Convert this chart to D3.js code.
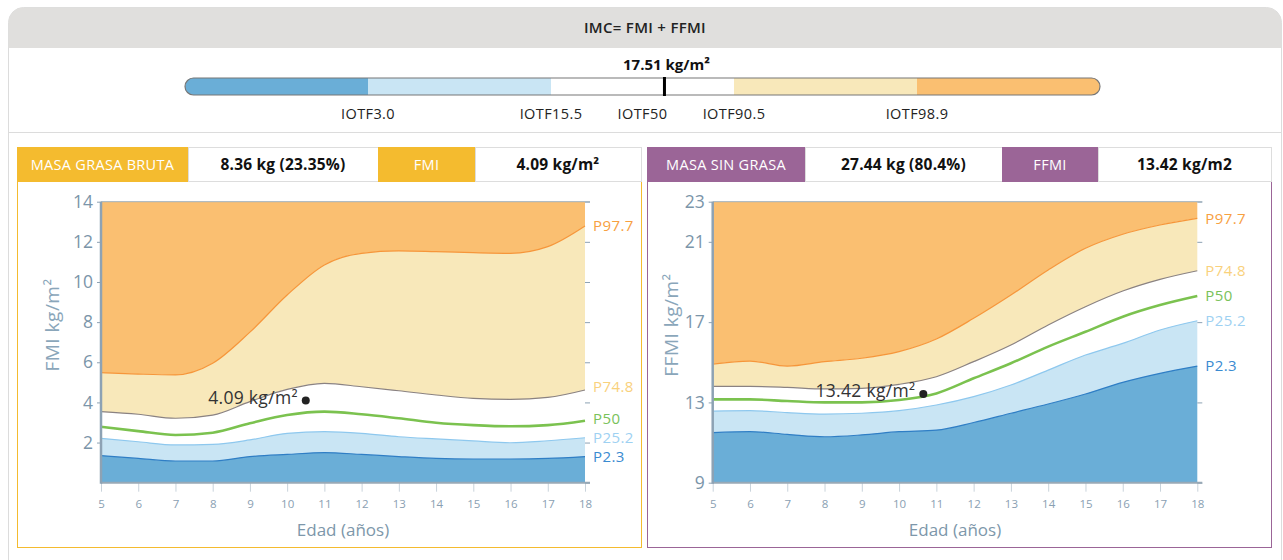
<!DOCTYPE html>
<html>
<head>
<meta charset="utf-8">
<script src="https://cdn.jsdelivr.net/npm/d3@7"></script>
<style>
  body { margin: 0; background: #fff; font-family: "Open Sans", "Noto Sans", sans-serif; }
  svg text { font-family: "Open Sans", "Noto Sans", sans-serif; }
</style>
</head>
<body>
<svg id="chart" width="1283" height="560"></svg>
<script>
// ---- data ----
const ages = [5, 6, 7, 8, 9, 10, 11, 12, 13, 14, 15, 16, 17, 18];

// FMI percentiles (kg/m2)
const fmiP977 = [5.48, 5.41, 5.37, 5.95, 7.5, 9.35, 10.85, 11.43, 11.55, 11.51, 11.46, 11.43, 11.76, 12.79];
const fmiP748 = [3.54, 3.41, 3.21, 3.37, 4.04, 4.65, 4.95, 4.78, 4.58, 4.37, 4.20, 4.15, 4.25, 4.62];
const fmiP50 = [2.79, 2.57, 2.38, 2.49, 2.96, 3.37, 3.54, 3.41, 3.21, 2.99, 2.87, 2.81, 2.87, 3.09];
const fmiP252 = [2.21, 2.04, 1.88, 1.91, 2.13, 2.46, 2.54, 2.46, 2.29, 2.18, 2.08, 1.99, 2.09, 2.24];
const fmiP23 = [1.35, 1.21, 1.08, 1.08, 1.30, 1.41, 1.50, 1.41, 1.30, 1.21, 1.18, 1.18, 1.21, 1.30];

// FFMI percentiles (kg/m2)
const ffmiP977 = [14.91, 15.06, 14.81, 15.03, 15.20, 15.53, 16.16, 17.19, 18.35, 19.60, 20.68, 21.38, 21.84, 22.17];
const ffmiP748 = [13.80, 13.80, 13.75, 13.67, 13.70, 13.90, 14.28, 15.03, 15.86, 16.86, 17.77, 18.55, 19.13, 19.56];
const ffmiP50 = [13.15, 13.15, 13.07, 13.0, 13.0, 13.12, 13.45, 14.2, 14.95, 15.78, 16.52, 17.27, 17.85, 18.3];
const ffmiP252 = [12.57, 12.59, 12.49, 12.42, 12.46, 12.59, 12.87, 13.29, 13.87, 14.61, 15.36, 15.94, 16.61, 17.07];
const ffmiP23 = [11.49, 11.54, 11.41, 11.29, 11.38, 11.54, 11.62, 12.0, 12.46, 12.92, 13.42, 14.0, 14.45, 14.81];

const fmiTicks = [2, 4, 6, 8, 10, 12, 14];
const fmiMinorTicks = [0, 2, 4, 6, 8, 10, 12, 14];
const ffmiTicks = [9, 13, 17, 21, 23];

const patientAgeFmi = 10.5;
const patientAgeFfmi = 10.65;
const patientFmi = 4.09;
const patientFfmi = 13.42;
const patientBmi = 17.51;

// BMI bar: segments in IOTF-band units, marker position in the same units
const bmiBands = [0, 1, 2, 3, 4, 5];
const bmiCutLabels = ["IOTF3.0", "IOTF15.5", "IOTF50", "IOTF90.5", "IOTF98.9"];
const bmiCutPos = [1, 2, 2.5, 3, 4];
const bmiMarkerPos = 2.62;

const headerLeft = ["MASA GRASA BRUTA", "8.36 kg (23.35%)", "FMI", "4.09 kg/m²"];
const headerRight = ["MASA SIN GRASA", "27.44 kg (80.4%)", "FFMI", "13.42 kg/m2"];

// ---- colours ----
const C = {
  orangeFill: "#fabf71", orangeLine: "#f6963a",
  yellowFill: "#f8e8ba", grayLine: "#8a8282",
  green: "#7bc24f",
  lightBlueFill: "#c9e5f4", lightBlueLine: "#8ec8ee",
  blueFill: "#6aaed7", blueLine: "#2f7ec5",
  axis: "#8da2b4", tickText: "#7b95a9", xTickText: "#8aa0b2"
};
const bandColors = [C.blueFill, C.lightBlueFill, "#ffffff", C.yellowFill, C.orangeFill];

const svg = d3.select("#chart");

// ---- outer card ----
svg.append("rect")
  .attr("x", 8.5).attr("y", 7.5).attr("width", 1273).attr("height", 600)
  .attr("rx", 15).attr("fill", "#fff").attr("stroke", "#dcdcdc");
svg.append("path")
  .attr("d", "M8.5,48 L8.5,22.5 A15,15 0 0 1 23.5,7.5 L1266.5,7.5 A15,15 0 0 1 1281.5,22.5 L1281.5,48 Z")
  .attr("fill", "#e0dfdd");
svg.append("text")
  .attr("x", 645).attr("y", 33).attr("text-anchor", "middle")
  .style("font-size", "15px").style("font-weight", 600).style("fill", "#222")
  .style("letter-spacing", "0.3px")
  .text("IMC= FMI + FFMI");

// ---- BMI bar ----
const barX = d3.scaleLinear().domain([0, 5]).range([185, 1100]);
const barY = 78, barH = 17;
const defs = svg.append("defs");
defs.append("clipPath").attr("id", "barClip")
  .append("rect").attr("x", 185).attr("y", barY).attr("width", 915).attr("height", barH).attr("rx", barH / 2);

svg.append("g").attr("clip-path", "url(#barClip)")
  .selectAll("rect")
  .data(bmiBands.slice(0, -1))
  .enter().append("rect")
  .attr("x", d => barX(d)).attr("y", barY)
  .attr("width", d => barX(d + 1) - barX(d)).attr("height", barH)
  .attr("fill", (d, i) => bandColors[i]);
svg.append("rect")
  .attr("x", 185).attr("y", barY).attr("width", 915).attr("height", barH).attr("rx", barH / 2)
  .attr("fill", "none").attr("stroke", "#777").attr("stroke-width", 1.2);
svg.append("line")
  .attr("x1", barX(bmiMarkerPos)).attr("x2", barX(bmiMarkerPos))
  .attr("y1", barY - 1).attr("y2", barY + barH + 1)
  .attr("stroke", "#000").attr("stroke-width", 3);
svg.append("text")
  .attr("x", barX(bmiMarkerPos) + 2).attr("y", 70).attr("text-anchor", "middle")
  .style("font-size", "15px").style("font-weight", 700).style("fill", "#111")
  .text(patientBmi.toFixed(2) + " kg/m²");
svg.selectAll(".cut-label")
  .data(bmiCutLabels)
  .enter().append("text")
  .attr("class", "cut-label")
  .attr("x", (d, i) => barX(bmiCutPos[i])).attr("y", 118.5).attr("text-anchor", "middle")
  .style("font-size", "14.5px").style("fill", "#222").style("letter-spacing", "0.4px")
  .text(d => d);

svg.append("line")
  .attr("x1", 8.5).attr("x2", 1281.5).attr("y1", 132.5).attr("y2", 132.5)
  .attr("stroke", "#dcdcdc");

// ---- panels ----
function drawPanel(opt) {
  const g = svg.append("g");
  const px = opt.x, pw = 624;

  // frame
  g.append("rect")
    .attr("x", px + 0.5).attr("y", 147.5).attr("width", pw).attr("height", 400)
    .attr("fill", "#fff").attr("stroke", opt.color);

  // header cells
  const cells = g.selectAll(".cell")
    .data(opt.header)
    .enter().append("g");
  cells.append("rect")
    .attr("x", (d, i) => opt.cellX[i] + 0.5).attr("y", 147.5)
    .attr("width", (d, i) => opt.cellX[i + 1] - opt.cellX[i]).attr("height", 34)
    .attr("fill", (d, i) => i % 2 === 0 ? opt.color : "#fff")
    .attr("stroke", (d, i) => i % 2 === 0 ? opt.color : "#dddddd");
  cells.append("text")
    .attr("x", (d, i) => (opt.cellX[i] + opt.cellX[i + 1]) / 2)
    .attr("y", 170).attr("text-anchor", "middle")
    .style("font-size", (d, i) => i % 2 === 0 ? "14.5px" : "15.5px")
    .style("letter-spacing", (d, i) => i % 2 === 0 ? "0.3px" : "0.2px")
    .style("font-weight", (d, i) => i % 2 === 0 ? 500 : 700)
    .style("fill", (d, i) => i % 2 === 0 ? "#fff" : "#111")
    .text(d => d);

  // scales
  const x = d3.scaleLinear().domain([5, 18]).range([opt.plotX0, opt.plotX1]);
  const y = d3.scaleLinear().domain(opt.yDomain).range([482.7, 201.7]);
  const rows = ages.map((a, i) => ({
    a, p977: opt.p977[i], p748: opt.p748[i], p50: opt.p50[i], p252: opt.p252[i], p23: opt.p23[i]
  }));
  const curve = d3.curveMonotoneX;
  const area = (lo, hi) => d3.area().curve(curve).x(d => x(d.a)).y0(lo).y1(hi);
  const line = key => d3.line().curve(curve).x(d => x(d.a)).y(d => y(d[key]));

  const top = y(opt.yDomain[1]), bottom = y(opt.yDomain[0]);
  g.append("path").datum(rows).attr("fill", C.orangeFill).attr("d", area(d => y(d.p977), top));
  g.append("path").datum(rows).attr("fill", C.yellowFill).attr("d", area(d => y(d.p748), d => y(d.p977)));
  g.append("path").datum(rows).attr("fill", C.lightBlueFill).attr("d", area(d => y(d.p23), d => y(d.p252)));
  g.append("path").datum(rows).attr("fill", C.blueFill).attr("d", area(bottom, d => y(d.p23)));

  const lines = [
    ["p977", C.orangeLine, 1.2], ["p748", C.grayLine, 1.2], ["p50", C.green, 2.6],
    ["p252", C.lightBlueLine, 1.2], ["p23", C.blueLine, 1.2]
  ];
  lines.forEach(([k, col, w]) => {
    g.append("path").datum(rows).attr("fill", "none").attr("stroke", col)
      .attr("stroke-width", w).attr("d", line(k));
  });

  // axes
  const xAxis = g.append("g").attr("transform", `translate(0,${bottom})`)
    .call(d3.axisBottom(x).tickValues(ages).tickSize(9).tickPadding(8).tickFormat(d3.format("d")));
  xAxis.select(".domain").remove();
  xAxis.selectAll(".tick line").attr("stroke", "#c9d3db");
  xAxis.selectAll(".tick text").style("font-size", "11.5px").style("fill", C.xTickText);

  const yAxis = g.append("g").attr("transform", `translate(${opt.plotX0},0)`)
    .call(d3.axisLeft(y).tickValues(opt.ticks).tickSize(4).tickPadding(4));
  yAxis.select(".domain").remove();
  yAxis.selectAll(".tick line").attr("stroke", C.axis);
  yAxis.selectAll(".tick text").style("font-size", "17.5px").style("fill", C.tickText);

  const rAxis = g.append("g").attr("transform", `translate(${opt.plotX1},0)`)
    .call(d3.axisRight(y).tickValues(opt.rightTicks).tickSize(5).tickFormat(""));
  rAxis.select(".domain").remove();
  rAxis.selectAll(".tick line").attr("stroke", C.axis);

  g.append("line").attr("x1", opt.plotX0).attr("x2", opt.plotX1 + 5)
    .attr("y1", top).attr("y2", top).attr("stroke", "#9fb0bd");
  g.append("line").attr("x1", opt.plotX0).attr("x2", opt.plotX1 + 5)
    .attr("y1", bottom).attr("y2", bottom).attr("stroke", "#98a9b6").attr("stroke-width", 2);
  g.append("line").attr("x1", opt.plotX0).attr("x2", opt.plotX0)
    .attr("y1", top).attr("y2", bottom + 1).attr("stroke", C.axis).attr("stroke-width", 2.5);

  // percentile labels
  const labels = [
    ["P97.7", "p977", "#f7a041"], ["P74.8", "p748", "#f9d17c"], ["P50", "p50", "#79c25a"],
    ["P25.2", "p252", "#9ed1f2"], ["P2.3", "p23", "#3a8bd1"]
  ];
  const last = rows[rows.length - 1];
  g.selectAll(".plabel")
    .data(labels)
    .enter().append("text")
    .attr("x", opt.plotX1 + 8)
    .attr("y", (d, i) => y(last[d[1]]) + (opt.labelShift[i] || 0))
    .attr("dy", "0.35em")
    .style("font-size", "15px").style("letter-spacing", "0.4px").style("fill", d => d[2])
    .text(d => d[0]);

  // axis titles
  g.append("text")
    .attr("transform", `translate(${opt.yTitleX},325) rotate(-90)`)
    .attr("text-anchor", "middle").attr("dy", "0.35em")
    .style("font-size", "19px").style("letter-spacing", "0.5px").style("fill", "#8aa6ba")
    .text(opt.yTitle);
  g.append("text")
    .attr("x", (opt.plotX0 + opt.plotX1) / 2).attr("y", 536)
    .attr("text-anchor", "middle")
    .style("font-size", "17px").style("fill", "#7d97aa")
    .text("Edad (años)");

  // patient point
  const cx = x(opt.age), cy = y(opt.value);
  g.append("circle").attr("cx", cx).attr("cy", cy).attr("r", 4).attr("fill", "#222");
  g.append("text")
    .attr("x", cx - 8).attr("y", cy + 3).attr("text-anchor", "end")
    .style("font-size", "17.5px").style("letter-spacing", "0.3px").style("fill", "#333")
    .text(opt.value.toFixed(2) + " kg/m²");
}

drawPanel({
  x: 17, color: "#f4bb2f", header: headerLeft, cellX: [17, 188, 378, 475, 641],
  plotX0: 101, plotX1: 585, yDomain: [0, 14], ticks: fmiTicks, rightTicks: fmiMinorTicks,
  p977: fmiP977, p748: fmiP748, p50: fmiP50, p252: fmiP252, p23: fmiP23,
  labelShift: [0, -3, -2, 0, 0],
  yTitle: "FMI kg/m²", yTitleX: 52, value: patientFmi, age: patientAgeFmi
});
drawPanel({
  x: 647, color: "#9b6597", header: headerRight, cellX: [647, 805, 1002, 1098, 1271],
  plotX0: 712.7, plotX1: 1197.3, yDomain: [9, 23], ticks: ffmiTicks, rightTicks: ffmiTicks,
  p977: ffmiP977, p748: ffmiP748, p50: ffmiP50, p252: ffmiP252, p23: ffmiP23,
  labelShift: [0, 0, 0, 0, 0],
  yTitle: "FFMI kg/m²", yTitleX: 671, value: patientFfmi, age: patientAgeFfmi
});
</script>
</body>
</html>
